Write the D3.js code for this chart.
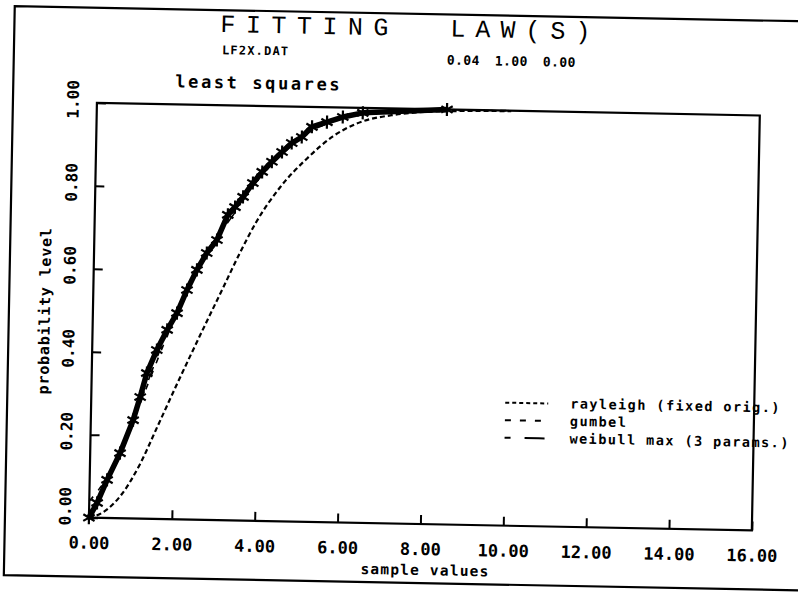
<!DOCTYPE html>
<html>
<head>
<meta charset="utf-8">
<script src="https://cdn.jsdelivr.net/npm/d3@7"></script>
<style>
  html, body { margin: 0; padding: 0; background: #fff; }
  svg { display: block; }
</style>
</head>
<body>
<svg id="chart" width="798" height="593"></svg>
<script>
// Empirical distribution of the sample (cumulative probability per value)
const sampleX = [0.00, 0.19, 0.42, 0.72, 1.02, 1.18, 1.33, 1.56, 1.80, 2.03, 2.26, 2.49, 2.72, 2.96,
                 3.21, 3.38, 3.57, 3.80, 4.02, 4.25, 4.49, 4.72, 4.96, 5.20, 5.56, 5.94, 6.42, 8.45];
const sampleP = [0.000, 0.036, 0.092, 0.157, 0.237, 0.293, 0.351, 0.407, 0.456, 0.497, 0.553, 0.602, 0.643, 0.675,
                 0.736, 0.755, 0.780, 0.814, 0.841, 0.866, 0.890, 0.912, 0.927, 0.952, 0.964, 0.977, 0.988, 1.000];

// Fitted laws
const rayleighX = [0.00, 0.31, 0.78, 1.20, 1.62, 2.08, 2.76, 3.13, 3.52, 3.90, 4.46, 5.09, 5.71, 6.28, 7.20, 8.50, 10.00];
const rayleighP = [0.000, 0.012, 0.058, 0.130, 0.225, 0.330, 0.480, 0.560, 0.645, 0.720, 0.805, 0.875, 0.930, 0.962, 0.985, 0.996, 0.999];

const gumbelX = [0.00, 0.20, 0.50, 0.80, 1.10, 1.40, 1.70, 2.00, 2.30, 2.60, 3.00, 3.40, 3.80, 4.20, 4.60, 5.00, 5.50, 6.00, 7.00, 8.00, 10.00];
const gumbelP = [0.040, 0.065, 0.110, 0.175, 0.255, 0.335, 0.415, 0.490, 0.555, 0.615, 0.690, 0.755, 0.815, 0.862, 0.900, 0.930, 0.958, 0.975, 0.990, 0.996, 1.000];

const weibullX = [0.00, 0.30, 0.60, 0.90, 1.20, 1.50, 1.80, 2.10, 2.40, 2.70, 3.00, 3.40, 3.80, 4.20, 4.60, 5.00, 5.50, 6.00, 7.00, 8.00, 9.00];
const weibullP = [0.000, 0.060, 0.125, 0.200, 0.285, 0.370, 0.450, 0.515, 0.580, 0.635, 0.685, 0.745, 0.805, 0.855, 0.895, 0.930, 0.958, 0.976, 0.993, 0.999, 1.000];

// Axes
const xTicks = [0, 2, 4, 6, 8, 10, 12, 14, 16];
const xTickLabels = ["0.00", "2.00", "4.00", "6.00", "8.00", "10.00", "12.00", "14.00", "16.00"];
const yTicks = [0, 0.2, 0.4, 0.6, 0.8, 1.0];
const yTickLabels = ["0.00", "0.20", "0.40", "0.60", "0.80", "1.00"];

// Legend entries
const legendLabels = ["rayleigh (fixed orig.)", "gumbel", "weibull max (3 params.)"];

const MONO = "'DejaVu Sans Mono', 'Liberation Mono', monospace";

const svg = d3.select("#chart");
svg.append("rect").attr("width", 798).attr("height", 593).attr("fill", "#fff");

// The whole sheet sits slightly tilted on the page
const sheet = svg.append("g").attr("transform", "rotate(1.1, 420, 310)");

// Outer sheet border (right edge runs off the page)
sheet.append("path")
  .attr("d", "M830,14 L9,14 L9,583 L830,583")
  .attr("fill", "none").attr("stroke", "#000").attr("stroke-width", 2.2);

const x = d3.scaleLinear().domain([0, 16]).range([93, 756]);
const y = d3.scaleLinear().domain([0, 1]).range([524, 109]);

// Plot frame
sheet.append("rect")
  .attr("x", x(0)).attr("y", y(1))
  .attr("width", x(16) - x(0)).attr("height", y(0) - y(1))
  .attr("fill", "none").attr("stroke", "#000").attr("stroke-width", 2.2);

// X axis
const xAxis = sheet.append("g")
  .attr("transform", `translate(0,${y(0)})`)
  .call(d3.axisBottom(x).tickValues(xTicks)
    .tickFormat((d, i) => xTickLabels[i])
    .tickSizeInner(-9).tickSizeOuter(0).tickPadding(19));
xAxis.select(".domain").remove();
xAxis.selectAll("line").attr("stroke", "#000").attr("stroke-width", 2);
xAxis.selectAll("text")
  .attr("font-family", MONO).attr("font-weight", "bold")
  .attr("font-size", 17).attr("fill", "#000");

// Y axis (ticks only; labels are stood on end below)
const yAxis = sheet.append("g")
  .attr("transform", `translate(${x(0)},0)`)
  .call(d3.axisLeft(y).tickValues(yTicks).tickFormat("")
    .tickSizeInner(-9).tickSizeOuter(0));
yAxis.select(".domain").remove();
yAxis.selectAll("line").attr("stroke", "#000").attr("stroke-width", 2);

sheet.append("g").selectAll("text")
  .data(yTicks)
  .join("text")
  .attr("transform", (d) => `translate(${x(0) - 24},${y(d) - (d === 0 ? 11 : 3)}) rotate(-90)`)
  .attr("text-anchor", "middle").attr("dy", "0.36em")
  .attr("font-family", MONO).attr("font-weight", "bold").attr("font-size", 16)
  .text((d, i) => yTickLabels[i]);

// Axis titles
sheet.append("text")
  .attr("x", 430).attr("y", 575)
  .attr("text-anchor", "middle")
  .attr("font-family", MONO).attr("font-weight", "bold").attr("font-size", 14.5)
  .attr("letter-spacing", 1.2)
  .text("sample values");

sheet.append("text")
  .attr("transform", "translate(50,318) rotate(-90)")
  .attr("text-anchor", "middle")
  .attr("font-family", MONO).attr("font-weight", "bold").attr("font-size", 15)
  .attr("letter-spacing", 0.8)
  .text("probability level");

// Headings
sheet.append("text")
  .attr("x", 215).attr("y", 36)
  .attr("font-family", "'Liberation Mono', monospace").attr("font-size", 25)
  .attr("letter-spacing", 10.5)
  .text("FITTING");
sheet.append("text")
  .attr("x", 445).attr("y", 36)
  .attr("font-family", "'Liberation Mono', monospace").attr("font-size", 25)
  .attr("letter-spacing", 10)
  .text("LAW(S)");

sheet.append("text")
  .attr("x", 217).attr("y", 58)
  .attr("font-family", MONO).attr("font-weight", "bold").attr("font-size", 12)
  .attr("letter-spacing", 1.2)
  .text("LF2X.DAT");

const params = ["0.04", "1.00", "0.00"];
sheet.append("g").selectAll("text")
  .data(params)
  .join("text")
  .attr("x", (d, i) => 442 + i * 48).attr("y", 64)
  .attr("font-family", MONO).attr("font-weight", "bold").attr("font-size", 13)
  .attr("letter-spacing", 0.4)
  .text((d) => d);

sheet.append("text")
  .attr("x", 171).attr("y", 92)
  .attr("font-family", MONO).attr("font-weight", "bold").attr("font-size", 17)
  .attr("letter-spacing", 2.6)
  .text("least squares");

// Curves
const line = d3.line().x((d) => x(d[0])).y((d) => y(d[1]));
const zip = (xs, ps) => xs.map((v, i) => [v, ps[i]]);

const plot = sheet.append("g");

plot.append("path")
  .datum(zip(rayleighX, rayleighP))
  .attr("d", line.curve(d3.curveMonotoneX))
  .attr("fill", "none").attr("stroke", "#000").attr("stroke-width", 2.2)
  .attr("stroke-dasharray", "5,3");

plot.append("path")
  .datum(zip(gumbelX, gumbelP))
  .attr("d", line.curve(d3.curveMonotoneX))
  .attr("fill", "none").attr("stroke", "#000").attr("stroke-width", 1.6)
  .attr("stroke-dasharray", "6,8");

plot.append("path")
  .datum(zip(weibullX, weibullP))
  .attr("d", line.curve(d3.curveMonotoneX))
  .attr("fill", "none").attr("stroke", "#000").attr("stroke-width", 1.6)
  .attr("stroke-dasharray", "6,12,14,12");

const samples = zip(sampleX, sampleP);
plot.append("path")
  .datum(samples)
  .attr("d", line.curve(d3.curveLinear))
  .attr("fill", "none").attr("stroke", "#000").attr("stroke-width", 5.5)
  .attr("stroke-linejoin", "round");

plot.append("g").selectAll("path")
  .data(samples)
  .join("path")
  .attr("transform", (d) => `translate(${x(d[0])},${y(d[1])})`)
  .attr("d", d3.symbol(d3.symbolAsterisk, 120))
  .attr("fill", "none").attr("stroke", "#000").attr("stroke-width", 2.2);

// Legend
const legend = sheet.append("g");
const dashes = ["4,3", "6,9", "6,14,14,0"];
legendLabels.forEach((label, i) => {
  const yy = 401 + i * 17.5;
  legend.append("line")
    .attr("x1", 507).attr("x2", 550).attr("y1", yy).attr("y2", yy)
    .attr("stroke", "#000").attr("stroke-width", 2)
    .attr("stroke-dasharray", dashes[i]);
  legend.append("text")
    .attr("x", 572).attr("y", yy + 4.5)
    .attr("font-family", MONO).attr("font-weight", "bold").attr("font-size", 13.5)
    .attr("letter-spacing", 1.45)
    .text(label);
});
</script>
</body>
</html>
